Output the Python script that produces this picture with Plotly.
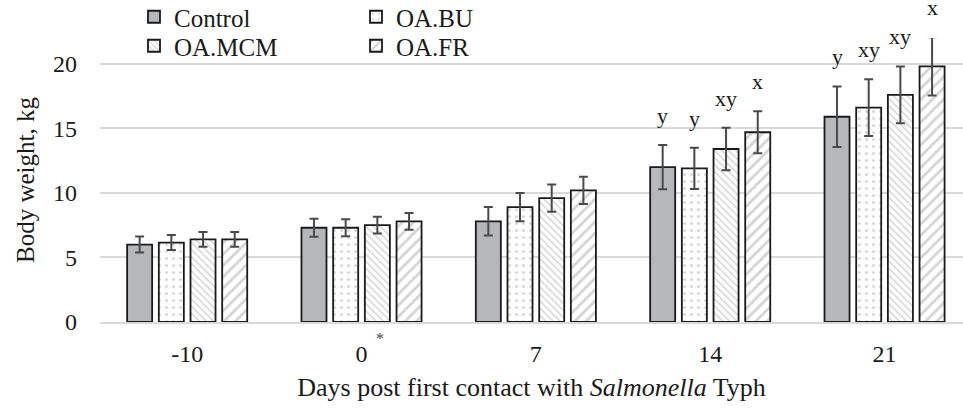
import plotly.graph_objects as go

categories = ["-10", "0", "7", "14", "21"]
series_names = ["Control", "OA.BU", "OA.MCM", "OA.FR"]

control_vals = [6.0, 7.3, 7.8, 12.0, 15.9]
bu_vals = [6.15, 7.3, 8.9, 11.9, 16.6]
mcm_vals = [6.4, 7.5, 9.6, 13.4, 17.6]
fr_vals = [6.4, 7.8, 10.2, 14.7, 19.8]

control_err = [0.62, 0.7, 1.1, 1.72, 2.35]
bu_err = [0.58, 0.65, 1.1, 1.6, 2.2]
mcm_err = [0.58, 0.65, 1.05, 1.65, 2.2]
fr_err = [0.58, 0.65, 1.05, 1.62, 2.25]

control_letters = ["", "", "", "y", "y"]
bu_letters = ["", "", "", "y", "xy"]
mcm_letters = ["", "", "", "xy", "xy"]
fr_letters = ["", "", "", "x", "x"]

y_max = 22
y_ticks = [0, 5, 10, 15, 20]

values = [control_vals, bu_vals, mcm_vals, fr_vals]
errors = [control_err, bu_err, mcm_err, fr_err]
letters = [control_letters, bu_letters, mcm_letters, fr_letters]

patterns = [
    dict(shape=""),
    dict(shape=".", fgcolor="#d9d9d9", bgcolor="white", size=7, solidity=0.15),
    dict(shape="\\", fgcolor="#d6d6d6", bgcolor="white", size=5, solidity=0.3),
    dict(shape="/", fgcolor="#d4d4d4", bgcolor="white", size=8, solidity=0.35),
]
fills = ["#b6b7bb", "white", "white", "white"]
legend_ids = ["legend", "legend", "legend2", "legend2"]

FONT = "Liberation Serif, Times New Roman, serif"
BARGAP = 0.273
GROUPGAP = 0.21

fig = go.Figure()
for i, name in enumerate(series_names):
    fig.add_trace(go.Bar(
        name=name,
        x=categories,
        y=values[i],
        marker=dict(color=fills[i], pattern=patterns[i],
                    line=dict(color="#1a1a1a", width=1.8)),
        error_y=dict(type="data", array=errors[i], visible=True,
                     color="#4a4a4a", thickness=2, width=4.5),
        legend=legend_ids[i],
    ))

# significance letters
ml, mr, width = 100, 0, 963
plot_w = width - ml - mr
x_range = [-0.5, 4.45]
px_per_cat = plot_w / (x_range[1] - x_range[0])
slot = (1 - BARGAP) / 4 * px_per_cat
annotations = []
for i in range(4):
    for j, cat in enumerate(categories):
        t = letters[i][j]
        if t:
            annotations.append(dict(
                x=j, xref="x", y=(values[i][j] + errors[i][j]) / y_max,
                yref="paper",
                text=t, showarrow=False, yanchor="bottom",
                xshift=(i - 1.5) * slot, yshift=15,
                font=dict(family=FONT, size=22, color="#1a1a1a"),
            ))
annotations.append(dict(
    x=categories.index("0"), xref="x", y=0, yref="y", text="*", showarrow=False,
    xshift=18, yshift=-16, font=dict(family=FONT, size=16, color="#444"),
))

fig.update_layout(
    template="none",
    width=963, height=409,
    margin=dict(l=ml, r=mr, t=38, b=87, autoexpand=False),
    paper_bgcolor="white", plot_bgcolor="white",
    barmode="group", bargap=BARGAP, bargroupgap=GROUPGAP,
    font=dict(family=FONT, size=24, color="#1a1a1a"),
    annotations=annotations,
    xaxis=dict(
        type="category", range=x_range, showgrid=False,
        showline=True, linecolor="#d9d9d9", linewidth=2,
        ticks="", ticklabelstandoff=9,
        tickfont=dict(family=FONT, size=24),
        title=dict(text="Days post first contact with <i>Salmonella</i> Typh",
                   font=dict(family=FONT, size=26), standoff=12),
    ),
    yaxis=dict(
        range=[0, y_max], tickvals=y_ticks,
        showgrid=True, gridcolor="#d9d9d9", gridwidth=1.5,
        zeroline=False, showline=False, ticks="", ticklabelstandoff=22,
        tickfont=dict(family=FONT, size=24),
        title=dict(text="Body weight, kg", font=dict(family=FONT, size=25),
                   standoff=11),
    ),
)

for key, ypx in (("legend", 17), ("legend2", 46)):
    fig.update_layout({key: dict(
        orientation="h", xref="container", yref="container",
        x=134 / 963, y=1 - ypx / 409, xanchor="left", yanchor="middle",
        entrywidth=177, entrywidthmode="pixels",
        itemwidth=30, tracegroupgap=0, bgcolor="rgba(0,0,0,0)",
        font=dict(family=FONT, size=25, color="#1a1a1a"),
    )})

fig.write_html("out.html", config={"displayModeBar": False},
               post_script="document.body.style.margin='0';")
